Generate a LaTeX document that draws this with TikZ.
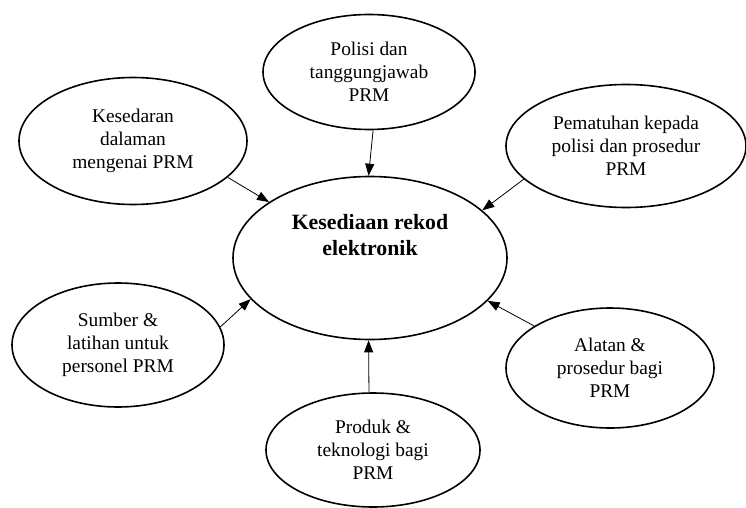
\documentclass[tikz,border=0pt]{standalone}
\usepackage{fontspec}
\setmainfont{Liberation Serif}
\usetikzlibrary{shapes.geometric,arrows.meta}
\begin{document}
\begin{tikzpicture}[x=1pt,y=-1pt,
  oval/.style={ellipse, draw, line width=1.6pt, inner sep=0pt, align=center,
    font=\fontsize{19.4}{23}\selectfont},
  conn/.style={line width=0.8pt, -{Triangle[length=12pt,width=9pt]}},
  ctitle/.style={align=center, font=\bfseries\fontsize{21.8}{26}\selectfont}]
\useasboundingbox (0,0) rectangle (746,508);
% centre
\node[oval, minimum width=274pt, minimum height=163pt] (c) at (370,258) {};
\node[ctitle] (ct) at (370,235) {Kesediaan rekod\\elektronik};
% outer
\node[oval, minimum width=228pt, minimum height=127pt] (k) at (133,141) {Kesedaran\\dalaman\\mengenai PRM};
\node[oval, minimum width=212pt, minimum height=115pt] (p) at (369,72) {Polisi dan\\tanggungjawab\\PRM};
\node[oval, minimum width=240pt, minimum height=123pt] (m) at (626,146) {Pematuhan kepada\\polisi dan prosedur\\PRM};
\node[oval, minimum width=212pt, minimum height=124pt] (s) at (118,345) {Sumber \&\\latihan untuk\\personel PRM};
\node[oval, minimum width=208pt, minimum height=120pt] (a) at (610,368) {Alatan \&\\prosedur bagi\\PRM};
\node[oval, minimum width=214pt, minimum height=114pt] (d) at (373,450) {Produk \&\\teknologi bagi\\PRM};
% connectors
\draw[conn] (k.-21) -- (c.151);
\draw[conn] (p.-86) -- (c.91);
\draw[conn] (m.198) -- (c.23);
\draw[conn] (s.10) -- (c.199);
\draw[conn] (a.151) -- (c.-20);
\draw[conn] (d.94) -- (c.-91);
\end{tikzpicture}
\end{document}
